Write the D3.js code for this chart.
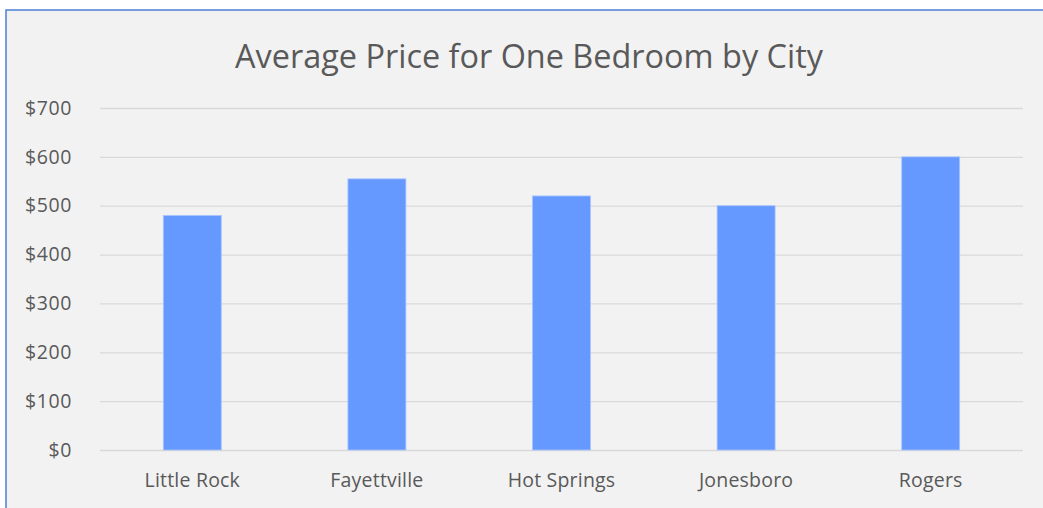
<!DOCTYPE html>
<html>
<head>
<meta charset="utf-8">
<script src="https://cdn.jsdelivr.net/npm/d3@7"></script>
<style>
html,body{margin:0;padding:0;background:#fff;}
svg{display:block;}
</style>
</head>
<body>
<svg id="chart" width="1043" height="508"></svg>
<script>
const title = "Average Price for One Bedroom by City";
const categories = ["Little Rock", "Fayettville", "Hot Springs", "Jonesboro", "Rogers"];
const values = [480, 555, 520, 500, 600];
const yTicks = [0, 100, 200, 300, 400, 500, 600, 700];

const svg = d3.select("#chart");
const margin = {left: 100, top: 108};
const plotRight = 1023, plotBottom = 450;

svg.append("rect").attr("x", 6).attr("y", 10).attr("width", 1060).attr("height", 520)
  .attr("fill", "#f2f2f2").attr("stroke", "#4a7fd6").attr("stroke-width", 1.5);

const x = d3.scaleBand().domain(categories).range([margin.left, plotRight]).paddingInner(0.686).paddingOuter(0.343);
const y = d3.scaleLinear().domain([0, 700]).range([plotBottom, margin.top]);

// gridlines
const grid = svg.append("g").attr("transform", `translate(${margin.left},0)`)
  .call(d3.axisLeft(y).tickValues(yTicks).tickSize(-(plotRight - margin.left)).tickFormat(""));
grid.select(".domain").remove();
grid.selectAll("line").attr("stroke", "#d9d9d9").attr("stroke-width", 1.3);

// bars
svg.append("g").selectAll("rect").data(categories).join("rect")
  .attr("x", d => x(d))
  .attr("y", (d, i) => y(values[i]))
  .attr("width", x.bandwidth())
  .attr("height", (d, i) => y(0) - y(values[i]))
  .attr("fill", "#6699ff")
  .attr("stroke", "#a9c4ff").attr("stroke-width", 0.8);

const font = "'Open Sans', sans-serif";

// y axis labels
const yAxis = svg.append("g").attr("transform", `translate(72,0)`)
  .call(d3.axisLeft(y).tickValues(yTicks).tickSize(0).tickPadding(0).tickFormat(d => "$" + d));
yAxis.select(".domain").remove();
yAxis.selectAll("text").attr("fill", "#595959").style("font-family", font).style("font-size", "19.5px")
  .style("letter-spacing", "0.6px");

// x axis labels
const xAxis = svg.append("g").attr("transform", `translate(0,${plotBottom})`)
  .call(d3.axisBottom(x).tickSize(0).tickPadding(23));
xAxis.select(".domain").remove();
xAxis.selectAll("text").attr("fill", "#595959").style("font-family", font).style("font-size", "19.5px")
  .style("letter-spacing", "0.2px");

// title
const t = svg.append("text").attr("x", 529).attr("y", 68).attr("text-anchor", "middle")
  .attr("fill", "#595959").style("font-family", font).style("font-size", "29px")
  .text(title);
const len = t.node().getComputedTextLength();
t.style("font-size", (29 * 588 / len).toFixed(2) + "px");
</script>
</body>
</html>
